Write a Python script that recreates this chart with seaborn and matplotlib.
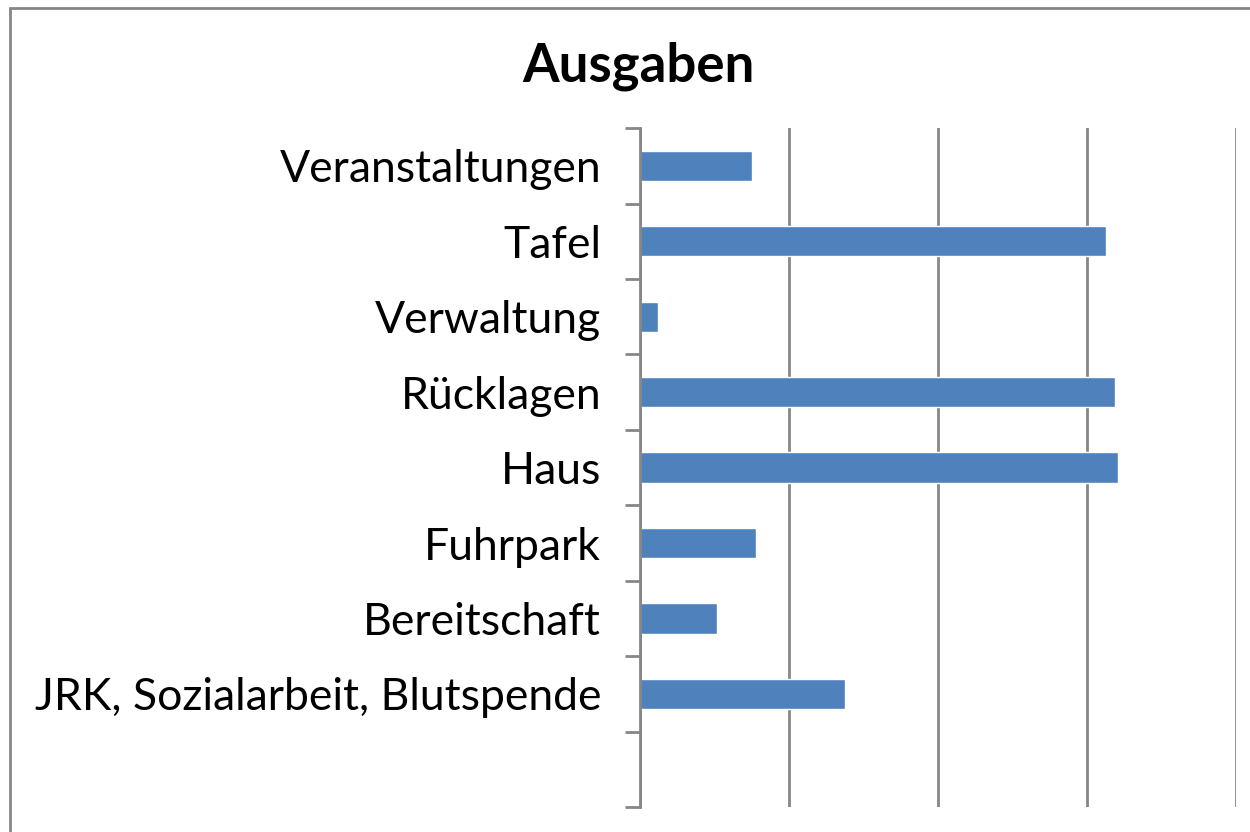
import numpy as np
import matplotlib
matplotlib.use('Agg')
import matplotlib.pyplot as plt
import seaborn as sns
from matplotlib.patches import Rectangle

kategorien = ['Veranstaltungen', 'Tafel', 'Verwaltung', 'Rücklagen', 'Haus',
              'Fuhrpark', 'Bereitschaft', 'JRK, Sozialarbeit, Blutspende']
betraege = [7500, 31250, 1200, 31900, 32100, 7800, 5200, 13750]
gitter = [0, 10000, 20000, 30000, 40000]

sns.set_style('white')
plt.rcParams['font.family'] = ['Lato', 'DejaVu Sans']

fig = plt.figure(figsize=(12.5, 8.32), dpi=100)
ax = fig.add_axes([0.512, 0.030, 0.4768, 0.816])

sns.barplot(x=betraege, y=kategorien, color='#4F81BD', width=0.4,
            saturation=1, orient='h', ax=ax)

grau = '#868686'
ax.set_xlim(0, 40000)
ax.set_ylim(8.5, -0.5)
ax.set_xticks(gitter)
ax.set_xticklabels([])
ax.tick_params(axis='x', length=0)
ax.grid(axis='x', color=grau, linewidth=2)
ax.set_axisbelow(True)

ax.set_yticks(range(len(kategorien)))
ax.set_yticklabels(kategorien, fontsize=32, color='black')
ax.set_yticks(np.arange(-0.5, 9.0, 1.0), minor=True)
ax.tick_params(axis='y', which='major', length=0, pad=28)
ax.tick_params(axis='y', which='minor', left=True, length=11, width=2,
               color=grau)

for s in ['top', 'right', 'bottom']:
    ax.spines[s].set_visible(False)
ax.spines['left'].set_color(grau)
ax.spines['left'].set_linewidth(2)
ax.set_xlabel('')
ax.set_ylabel('')

fig.text(0.511, 0.92, 'Ausgaben', ha='center', va='center',
         fontsize=38, fontweight='bold', color='black')

fig.patches.append(Rectangle((0.0076, -0.05), 1.1, 0.9904 + 0.05,
                             transform=fig.transFigure, fill=False,
                             edgecolor=grau, linewidth=2))

fig.savefig('out.png', dpi=100)
